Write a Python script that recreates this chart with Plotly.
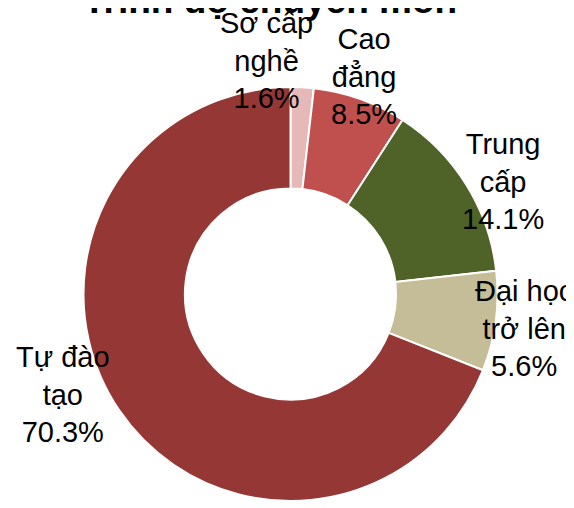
import plotly.graph_objects as go

# dữ liệu trình độ chuyên môn
labels = ["Sơ cấp nghề", "Cao đẳng", "Trung cấp", "Đại học trở lên", "Tự đào tạo"]
label_lines = ["Sơ cấp<br>nghề", "Cao<br>đẳng", "Trung<br>cấp", "Đại học<br>trở lên", "Tự đào<br>tạo"]
# % ghi trên nhãn
label_pct = [1.6, 8.5, 14.1, 5.6, 70.3]
# độ lớn lát cắt đo được trên hình (không khớp hẳn với nhãn)
slice_share = [1.8, 7.3, 14.1, 7.8, 69.0]
colors = ["#E6B9B8", "#C0504D", "#4F6228", "#C4BD97", "#953735"]

# vị trí nhãn trên màn hình (pixel)
label_pos = [(266, 60), (364, 77), (503, 181), (524, 328), (63, 394)]

W, H = 574, 508
OFF = 8  # lề mặc định của trang html


def fx(px_):
    return (px_ - OFF) / W


def fy(py_):
    return 1 - (py_ - OFF) / H


fig = go.Figure(go.Pie(
    labels=labels,
    values=slice_share,
    hole=0.51,
    sort=False,
    direction="clockwise",
    rotation=0,
    marker=dict(colors=colors, line=dict(color="white", width=2)),
    textinfo="none",
    domain=dict(x=[fx(83.5), fx(497.5)], y=[fy(501), fy(87)]),
    showlegend=False,
))

for name, v, (px_, py_) in zip(label_lines, label_pct, label_pos):
    fig.add_annotation(
        text=f"{name}<br>{v:.1f}%",
        x=fx(px_), y=fy(py_),
        xref="paper", yref="paper",
        xanchor="center", yanchor="middle",
        showarrow=False,
        font=dict(family="Liberation Sans", size=29, color="black"),
    )

# tiêu đề bị cắt ở mép trên như hình gốc
fig.add_annotation(
    text="<b>Trình độ chuyên môn</b>",
    x=fx(270), y=fy(0),
    xref="paper", yref="paper",
    xanchor="center", yanchor="middle",
    showarrow=False,
    font=dict(family="Liberation Sans", size=37, color="black"),
)

fig.update_layout(
    width=W,
    height=H,
    margin=dict(l=0, r=0, t=0, b=0),
    paper_bgcolor="white",
    plot_bgcolor="white",
)

fig.write_html("out.html")
